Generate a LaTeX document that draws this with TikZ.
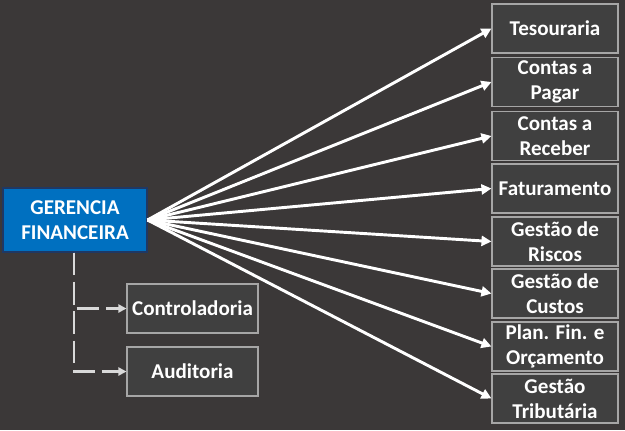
\documentclass[tikz,border=0pt]{standalone}
\usepackage{fontspec}
\setmainfont{Carlito}
\usepackage{xcolor}
\usepackage{tikz}
\usetikzlibrary{arrows.meta}
\definecolor{bgdark}{HTML}{3B3838}
\definecolor{boxfill}{HTML}{404040}
\definecolor{boxline}{HTML}{A6A6A6}
\definecolor{bluex}{HTML}{0070C0}
\definecolor{navyx}{HTML}{1F3864}
\definecolor{dashx}{HTML}{D9D9D9}
\tikzset{
  ar/.style={-{Triangle[length=7.5pt,width=7.5pt]},line width=2.2pt,white},
  dar/.style={-{Triangle[length=6pt,width=6pt]},line width=2.2pt,dashx,dash pattern=on 17pt off 5pt},
  box/.style={draw=boxline,line width=0.8pt,fill=boxfill,text=white,align=center,inner sep=0pt,
    font=\fontsize{15.8}{18.75}\selectfont\bfseries,minimum width=94.5pt,minimum height=36.75pt},
  head/.style={box,draw=navyx,fill=bluex,minimum width=108pt,minimum height=48pt}
}
\begin{document}
\begin{tikzpicture}[x=0.75pt,y=-0.75pt]
\fill[bgdark] (0,0) rectangle (625,430);
\useasboundingbox (0,0) rectangle (625,430);
\node[head] (gf) at (75,220) {GERENCIA\\FINANCEIRA};
\node[box] (tes)  at (555,28.5)  {Tesouraria};
\node[box] (cpag) at (555,82)    {Contas a\\Pagar};
\node[box] (crec) at (555,136)   {Contas a\\Receber};
\node[box] (fat)  at (555,188.5) {Faturamento};
\node[box] (risc) at (555,241.5) {Gestão de\\Riscos};
\node[box] (cust) at (555,293.5) {Gestão de\\Custos};
\node[box] (plan) at (555,346.5) {Plan. Fin. e\\Orçamento};
\node[box] (trib) at (555,398.5) {Gestão\\Tributária};
\node[box,minimum width=98.25pt] (ctrl) at (192.5,308.5) {Controladoria};
\node[box,minimum width=98.25pt] (aud)  at (192.5,371.5) {Auditoria};
\foreach \t in {tes,cpag,crec,fat,risc,cust,plan,trib}
  \draw[ar] (gf.east) -- (\t.west);
\draw[dar] ([xshift=-0.75pt]gf.south) |- (ctrl.west);
\draw[dar] ([xshift=-0.75pt]gf.south) |- (aud.west);
\end{tikzpicture}
\end{document}
